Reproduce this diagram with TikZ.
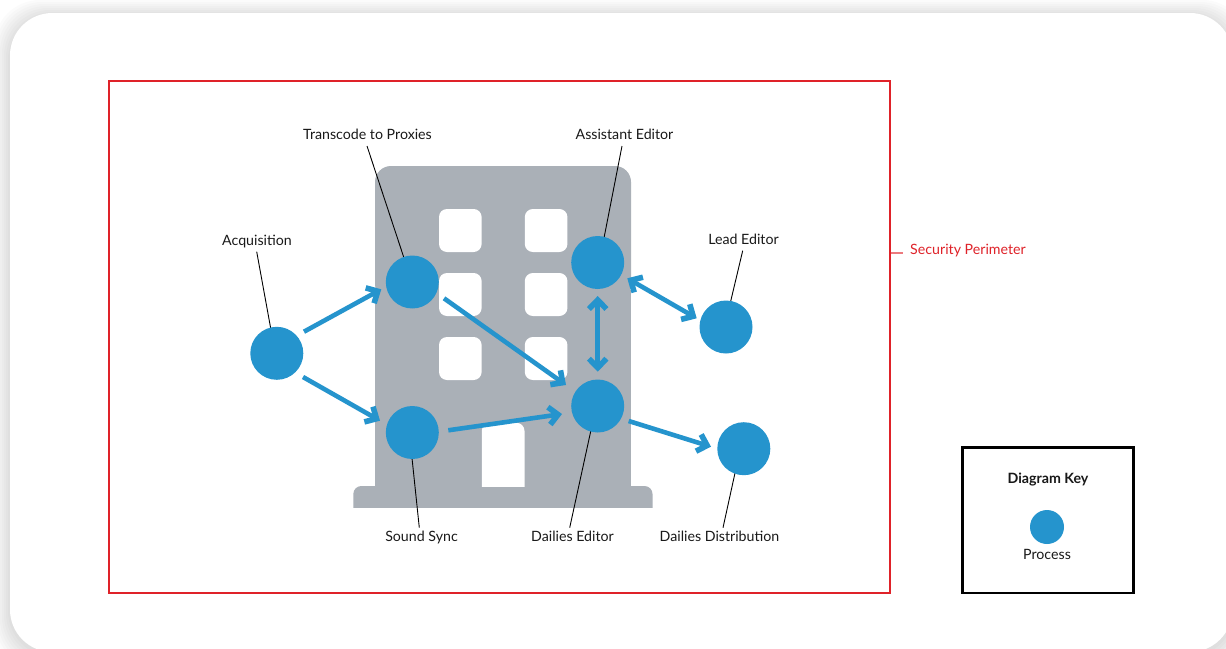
\documentclass[tikz,border=0pt]{standalone}
\usepackage{fontspec}
\setmainfont{Lato}
\usetikzlibrary{arrows.meta,calc}
\definecolor{procblue}{HTML}{2594CD}
\definecolor{bldg}{HTML}{AAB0B7}
\definecolor{perim}{HTML}{DF2229}
\tikzset{
  x=1pt,y=-1pt,
  proc/.style={circle,fill=procblue,draw=none,minimum size=53pt,inner sep=0pt},
  barb/.tip={Straight Barb[length=9pt,width=17.5pt,line width=5.6pt]},
  flow/.style={draw=procblue,line width=4.6pt,-barb},
  flowboth/.style={draw=procblue,line width=4.6pt,barb-barb},
  leader/.style={draw=black,line width=0.9pt},
  lab/.style={font=\fontsize{14.2}{16}\selectfont,text=black!90,inner sep=0pt,anchor=base},
  win/.style={fill=white,draw=none,rounded corners=8pt},
}
\begin{document}
\begin{tikzpicture}
\useasboundingbox (0,0) rectangle (1226,648);
\fill[white] (0,0) rectangle (1226,648);
% card shadow
\begin{scope}
\clip (0,0) rectangle (1226,648);
\foreach \s in {16,14,12,10,8,6,4,2}{
  \fill[black,opacity=0.014,rounded corners=46pt] (10-\s,16-\s) rectangle (1232.4+\s,655+\s);
}
\fill[white,rounded corners=42.4pt] (10,13) rectangle (1232.4,652);
\end{scope}
% perimeter
\draw[perim,line width=2.3pt] (109,81) rectangle (890,593);
\coordinate (perimtick) at (890.5,253);
\coordinate (perimend) at (903,253);
\draw[perim!60,line width=1.2pt] (perimtick) -- (perimend);
\node[lab,text=perim,anchor=base west] (perimlab) at (910,254) {Security Perimeter};
% building
\fill[bldg,rounded corners=16pt] (375,300) -- (375,166) -- (631,166) -- (631,300) -- cycle;
\fill[bldg] (375,290) rectangle (631,490);
\begin{scope}
\clip (340,470) rectangle (670,507.5);
\fill[bldg,rounded corners=8pt] (353.3,520) -- (353.3,486) -- (652.5,486) -- (652.5,520) -- cycle;
\end{scope}
\foreach \xx in {439,524.8}{
  \foreach \yy in {209,273,337}{
    \fill[win] (\xx,\yy) rectangle (\xx+42.6,\yy+43);
  }
}
\begin{scope}
\clip (475,415) rectangle (530,486);
\fill[white,rounded corners=8pt] (481.8,500) -- (481.8,422.8) -- (524.5,422.8) -- (524.5,500) -- cycle;
\end{scope}
% labels
\node[lab] (lacq) at (257,245) {Acquisition};
\node[lab] (ltrans) at (367.5,139) {Transcode to Proxies};
\node[lab] (lasst) at (624.5,139) {Assistant Editor};
\node[lab] (llead) at (743.5,244) {Lead Editor};
\node[lab] (lsound) at (421.5,541) {Sound Sync};
\node[lab] (ldail) at (572.5,541) {Dailies Editor};
\node[lab] (ldist) at (719.5,541) {Dailies Distribution};
% leaders (drawn below the process nodes)
\coordinate (a1) at (256.7,251.7); \coordinate (a2) at (271,330);
\draw[leader] (a1) -- (a2);
\coordinate (t1) at (367,146); \coordinate (t2) at (404,258);
\draw[leader] (t1) -- (t2);
\coordinate (e1) at (622,146); \coordinate (e2) at (604,238);
\draw[leader] (e1) -- (e2);
\coordinate (l1) at (742.7,250.7); \coordinate (l2) at (730.5,302);
\draw[leader] (l1) -- (l2);
\coordinate (s1) at (419.3,527.7); \coordinate (s2) at (412,458);
\draw[leader] (s1) -- (s2);
\coordinate (d1) at (569.7,527.7); \coordinate (d2) at (591,430);
\draw[leader] (d1) -- (d2);
\coordinate (r1) at (723,527.7); \coordinate (r2) at (735,473);
\draw[leader] (r1) -- (r2);
% process nodes
\node[proc] (acq) at (276.8,353.3) {};
\node[proc] (trans) at (412.3,282) {};
\node[proc] (sound) at (412.3,432.5) {};
\node[proc] (asst) at (597.7,262.5) {};
\node[proc] (dail) at (597.7,406) {};
\node[proc] (lead) at (726,327) {};
\node[proc] (dist) at (743.8,448.7) {};
% flows
\draw[flow] ($(acq)+(27.2,-21.6)$) -- ($(trans)+(-31,7.3)$);
\draw[flow] ($(acq)+(26.2,23.7)$) -- ($(sound)+(-32.3,-11.8)$);
\draw[flow] ($(trans)+(31.7,16.3)$) -- ($(dail)+(-31.7,-21)$);
\draw[flow] ($(sound)+(36,-2.2)$) -- ($(dail)+(-35.7,8)$);
\draw[flowboth] ($(asst)+(0,33.5)$) -- ($(dail)+(0,-34.3)$);
\draw[flowboth] ($(asst)+(29.6,15.8)$) -- ($(lead)+(-29.3,-8.7)$);
\draw[flow] ($(dail)+(31,15)$) -- ($(dist)+(-32.8,-2)$);
% key
\draw[black,line width=2.4pt] (962.5,447.5) rectangle (1133.5,593);
\node[lab,font=\bfseries\fontsize{14.2}{16}\selectfont] (keyt) at (1048,483) {Diagram Key};
\node[proc,minimum size=34pt] (keyc) at (1047,527) {};
\node[lab] (keyl) at (1047,559) {Process};
\end{tikzpicture}
\end{document}
